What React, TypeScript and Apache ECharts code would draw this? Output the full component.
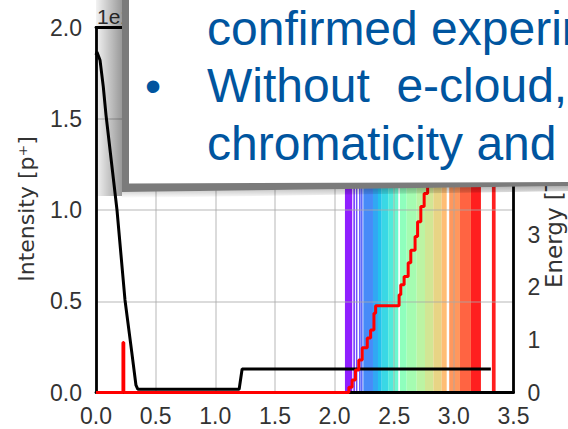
import React, { useEffect, useRef } from 'react';
import * as echarts from 'echarts';

// Beam intensity (units of 1e11 p+) versus time
const intensityTime = [0.0, 0.008, 0.034, 0.061, 0.084, 0.176, 0.243, 0.3, 0.335, 0.35, 0.4, 1.2, 1.225, 3.31];
const intensity = [1.85, 1.866, 1.82, 1.676, 1.52, 1.0, 0.507, 0.22, 0.04, 0.018, 0.018, 0.018, 0.129, 0.129];

// Energy versus time (stepped)
const energyTime = [0.0, 0.226, 0.233, 2.087, 2.12, 2.147, 2.175, 2.203, 2.232, 2.274, 2.302, 2.33, 2.344, 2.527, 2.541, 2.555, 2.583, 2.617, 2.639, 2.675, 2.696, 2.723, 2.751, 2.78];
const energy = [0.0, 0.95, 0.0, 0.0, 0.1, 0.24, 0.43, 0.62, 0.85, 1.04, 1.19, 1.51, 1.65, 1.65, 1.86, 2.05, 2.21, 2.47, 2.71, 2.97, 3.25, 3.54, 3.79, 4.05];

// Coloured time spans (start, end, position in rainbow colormap)
const bandStart = [2.087, 2.157, 2.179, 2.205, 2.219, 2.241, 2.322, 2.364, 2.395, 2.45, 2.492, 2.548, 2.604, 2.688, 2.758, 2.828, 2.898, 2.961, 3.051, 3.143, 3.319];
const bandEnd = [2.148, 2.171, 2.19, 2.213, 2.235, 2.322, 2.364, 2.395, 2.45, 2.492, 2.534, 2.604, 2.688, 2.758, 2.828, 2.898, 2.94, 3.051, 3.143, 3.227, 3.35];
const bandLevel = [0.0, 0.05, 0.07, 0.09, 0.11, 0.16, 0.21, 0.26, 0.31, 0.36, 0.42, 0.5, 0.55, 0.6, 0.65, 0.7, 0.75, 0.82, 0.9, 1.0, 1.0];

const xTickLabels = ['0.0', '0.5', '1.0', '1.5', '2.0', '2.5', '3.0', '3.5'];
const energyTickLabels = ['0', '1', '2', '3'];

const boxLines = ['confirmed experim', 'Without  e-cloud,', 'chromaticity and'];

function rainbow(t: number): string {
  const c = (v: number) => Math.round(Math.max(0, Math.min(1, v)) * 255);
  const r = c(Math.abs(2 * t - 0.5));
  const g = c(Math.sin(Math.PI * t));
  const b = c(Math.cos((Math.PI * t) / 2));
  return `rgb(${r},${g},${b})`;
}

const TICK_FONT = 'Liberation Sans, Arial, sans-serif';
const SPINE = { color: '#000', width: 2.8 };
const GRIDLINE = { color: 'rgba(170,170,170,0.55)', width: 1.5 };

export default function App() {
  const ref = useRef<HTMLDivElement>(null);
  useEffect(() => {
    const chart = echarts.init(ref.current!, null, { renderer: 'svg' });
    const option: any = {
      animation: false,
      backgroundColor: '#fff',
      grid: { left: 96, right: 54.5, top: 27.5, bottom: 36.5, containLabel: false },
      xAxis: [
        {
          type: 'value', min: 0, max: 3.5, interval: 0.5, z: 1.5,
          axisLine: { show: true, onZero: false, lineStyle: SPINE },
          axisTick: { show: false },
          axisLabel: {
            margin: 12, color: '#333', fontSize: 23, fontFamily: TICK_FONT,
            formatter: (v: number) => xTickLabels[Math.round(v / 0.5)] ?? v.toFixed(1),
          },
          splitLine: { show: true, lineStyle: GRIDLINE },
        },
        {
          type: 'value', position: 'top', min: 0, max: 3.5, interval: 0.5, z: 1.5,
          axisLine: { show: true, onZero: false, lineStyle: SPINE },
          axisTick: { show: false }, axisLabel: { show: false }, splitLine: { show: false },
        },
      ],
      yAxis: [
        {
          type: 'value', min: 0, max: 2, interval: 0.5, z: 1.5,
          axisLine: { show: true, onZero: false, lineStyle: SPINE },
          axisTick: { show: false },
          axisLabel: { margin: 14, color: '#333', fontSize: 23, fontFamily: TICK_FONT, formatter: (v: number) => v.toFixed(1) },
          splitLine: { show: true, lineStyle: GRIDLINE },
        },
        {
          type: 'value', position: 'right', min: 0, max: 6.95, interval: 1, z: 1.5,
          axisLine: { show: true, onZero: false, lineStyle: SPINE },
          axisTick: { show: false },
          axisLabel: {
            margin: 14, color: '#333', fontSize: 23, fontFamily: TICK_FONT, showMaxLabel: false,
            formatter: (v: number) => energyTickLabels[Math.round(v)] ?? '',
          },
          splitLine: { show: false },
        },
      ],
      series: [
        {
          type: 'custom', xAxisIndex: 0, yAxisIndex: 0, z: 1, silent: true,
          data: bandStart.map((s, i) => [s, bandEnd[i], bandLevel[i]]),
          encode: { x: [0, 1] },
          renderItem: (params: any, api: any) => {
            const a = api.coord([api.value(0), 0]);
            const b = api.coord([api.value(1), 0]);
            const cs = params.coordSys;
            return {
              type: 'rect',
              shape: { x: a[0], y: cs.y, width: Math.max(b[0] - a[0], 1.5), height: cs.height },
              style: { fill: rainbow(api.value(2)), opacity: 0.88 },
            };
          },
        },
        {
          type: 'line', xAxisIndex: 0, yAxisIndex: 0, z: 3,
          data: intensityTime.map((t, i) => [t, intensity[i]]),
          showSymbol: false, symbol: 'none',
          lineStyle: { color: '#000', width: 3 },
        },
        {
          type: 'line', xAxisIndex: 0, yAxisIndex: 1, z: 3, step: 'end',
          data: energyTime.map((t, i) => [t, energy[i]]),
          showSymbol: false, symbol: 'none',
          lineStyle: { color: '#ff0000', width: 3 },
        },
      ],
      graphic: [
        {
          type: 'text', x: 26, y: 209, rotation: Math.PI / 2, z: 40,
          style: { text: 'Intensity [p⁺]', align: 'center', verticalAlign: 'middle', fill: '#333', fontSize: 22, fontFamily: 'DejaVu Sans, sans-serif' },
        },
        {
          type: 'text', x: 554, y: 288, rotation: Math.PI / 2, z: 40,
          style: { text: 'Energy [TeV]', align: 'left', verticalAlign: 'middle', fill: '#333', fontSize: 23, fontFamily: 'DejaVu Sans, sans-serif' },
        },
        {
          type: 'text', x: 97, y: 16, z: 40,
          style: { text: '1e11', align: 'left', verticalAlign: 'middle', fill: '#333', fontSize: 21, fontFamily: TICK_FONT },
        },
        {
          type: 'rect', z: 60, silent: true,
          shape: { x: 96, y: 0, width: 26, height: 196 },
          style: {
            fill: new echarts.graphic.LinearGradient(0, 0, 1, 0, [
              { offset: 0, color: 'rgba(0,0,0,0.05)' },
              { offset: 1, color: 'rgba(0,0,0,0.4)' },
            ]),
          },
        },
        {
          type: 'polygon', z: 61, silent: true,
          shape: { points: [[122, 0], [568, 0], [568, 186], [122, 192]] },
          style: { fill: '#7b7b7b' },
        },
        {
          type: 'polygon', z: 61, silent: true,
          shape: { points: [[122, 192], [568, 186], [568, 191], [122, 198]] },
          style: {
            fill: new echarts.graphic.LinearGradient(0, 0, 0, 1, [
              { offset: 0, color: 'rgba(0,0,0,0.3)' },
              { offset: 1, color: 'rgba(0,0,0,0)' },
            ]),
          },
        },
        {
          type: 'polygon', z: 62, silent: true,
          shape: { points: [[129, 0], [568, 0], [568, 182], [129, 183.5]] },
          style: { fill: '#ffffff' },
        },
        {
          type: 'text', x: 153, y: 86, z: 63,
          style: { text: '•', align: 'center', verticalAlign: 'middle', fill: '#00559f', fontSize: 46, fontFamily: TICK_FONT },
        },
        ...boxLines.map((line, i) => ({
          type: 'text', x: 207, y: [28.5, 85.5, 143.5][i], z: 63,
          style: { text: line, align: 'left', verticalAlign: 'middle', fill: '#00559f', fontSize: 48, fontFamily: TICK_FONT },
        })),
      ],
    };
    chart.setOption(option);
    return () => chart.dispose();
  }, []);
  return (
    <div
      ref={ref}
      style={{ position: 'fixed', left: 0, top: 0, width: 568, height: 429, overflow: 'hidden', background: '#fff' }}
    />
  );
}
